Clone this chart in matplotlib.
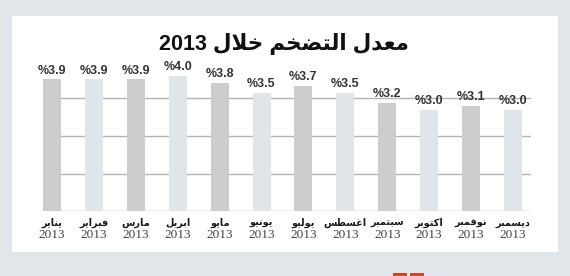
import matplotlib
matplotlib.use("Agg")
import matplotlib.pyplot as plt
from matplotlib.patches import Rectangle

# data
months = ['يناير', 'فبراير', 'مارس', 'ابريل', 'مايو', 'يونيو',
          'يوليو', 'اغسطس', 'سبتمبر', 'اكتوبر', 'نوفمبر', 'ديسمبر']
years = ['2013'] * 12
inflation = [3.9, 3.9, 3.9, 4.0, 3.8, 3.5, 3.7, 3.5, 3.2, 3.0, 3.1, 3.0]
title_ar = 'معدل التضخم خلال'
title_year = '2013'

# minimal arabic shaping: (isolated, final, initial, medial)
FORMS = {
    'ا': ('\uFE8D', '\uFE8E', None, None),
    'ب': ('\uFE8F', '\uFE90', '\uFE91', '\uFE92'),
    'ت': ('\uFE95', '\uFE96', '\uFE97', '\uFE98'),
    'خ': ('\uFEA5', '\uFEA6', '\uFEA7', '\uFEA8'),
    'د': ('\uFEA9', '\uFEAA', None, None),
    'ر': ('\uFEAD', '\uFEAE', None, None),
    'س': ('\uFEB1', '\uFEB2', '\uFEB3', '\uFEB4'),
    'ض': ('\uFEBD', '\uFEBE', '\uFEBF', '\uFEC0'),
    'ط': ('\uFEC1', '\uFEC2', '\uFEC3', '\uFEC4'),
    'ع': ('\uFEC9', '\uFECA', '\uFECB', '\uFECC'),
    'غ': ('\uFECD', '\uFECE', '\uFECF', '\uFED0'),
    'ف': ('\uFED1', '\uFED2', '\uFED3', '\uFED4'),
    'ك': ('\uFED9', '\uFEDA', '\uFEDB', '\uFEDC'),
    'ل': ('\uFEDD', '\uFEDE', '\uFEDF', '\uFEE0'),
    'م': ('\uFEE1', '\uFEE2', '\uFEE3', '\uFEE4'),
    'ن': ('\uFEE5', '\uFEE6', '\uFEE7', '\uFEE8'),
    'و': ('\uFEED', '\uFEEE', None, None),
    'ي': ('\uFEF1', '\uFEF2', '\uFEF3', '\uFEF4'),
}


def joins_next(c):
    return c in FORMS and FORMS[c][2] is not None


def shape(text):
    res = []
    i = 0
    while i < len(text):
        c = text[i]
        prev = text[i - 1] if i > 0 else ''
        nxt = text[i + 1] if i + 1 < len(text) else ''
        if c == 'ل' and nxt == 'ا':
            res.append('\uFEFC' if joins_next(prev) else '\uFEFB')
            i += 2
            continue
        if c not in FORMS:
            res.append(c)
            i += 1
            continue
        iso, fin, ini, med = FORMS[c]
        p = joins_next(prev)
        n = ini is not None and nxt in FORMS
        if p and n:
            res.append(med)
        elif p:
            res.append(fin)
        elif n:
            res.append(ini)
        else:
            res.append(iso)
        i += 1
    return ''.join(res)[::-1]


W, H = 570, 276
fig = plt.figure(figsize=(W / 100, H / 100), dpi=100, facecolor='#e1e6ea')
fig.patches.append(Rectangle((12 / W, 1 - 252 / H), 546 / W, 236 / H,
                             transform=fig.transFigure, facecolor='white',
                             edgecolor='none', zorder=-10))
for x0 in (393, 410):
    fig.patches.append(Rectangle((x0 / W, 0), 14 / W, 3 / H,
                                 transform=fig.transFigure, facecolor='#b5503a',
                                 edgecolor='none', zorder=-10))

ax = fig.add_axes([43 / W, 1 - 210.7 / H, 488 / W, 155 / H])
ax.set_facecolor('none')
ax.set_zorder(5)

x = list(range(len(months)))
colors = ['#cbcecc' if i % 2 == 0 else '#dfe5e9' for i in x]
bars = ax.bar(x, inflation, width=0.43, color=colors, zorder=3)

ax.set_xlim(-0.215, 11.43)
ax.set_ylim(0, 4.6)
ax.set_yticks([0, 1.09, 2.22, 3.34])
ax.grid(axis='y', color='#b4b4b4', linewidth=1.0)
ax.set_axisbelow(True)
ax.tick_params(left=False, bottom=False, labelleft=False, labelbottom=False)
for s in ax.spines.values():
    s.set_visible(False)

for b, v in zip(bars, inflation):
    ax.annotate('%' + f'{v:.1f}', (b.get_x() + b.get_width() / 2, v),
                xytext=(0, 2), textcoords='offset points', ha='center', va='bottom',
                fontsize=9, fontweight='bold', color='#333333',
                family=['Liberation Sans', 'DejaVu Sans'])

tr = ax.get_xaxis_transform()
for i, (m, y) in enumerate(zip(months, years)):
    ax.text(i, -0.079, shape(m), transform=tr, ha='center', va='center',
            fontsize=7, fontweight='bold', color='#1a1a1a', family=['DejaVu Sans'])
    ax.text(i, -0.157, y, transform=tr, ha='center', va='center',
            fontsize=9.5, color='#444444', family=['Liberation Serif'])

fig.text(284 / W, 1 - 44 / H, title_year + ' ' + shape(title_ar), ha='center', va='center',
         fontsize=15.5, fontweight='bold', color='#111111',
         family=['Liberation Sans', 'DejaVu Sans'])

fig.savefig('out.png', dpi=100, facecolor=fig.get_facecolor())
